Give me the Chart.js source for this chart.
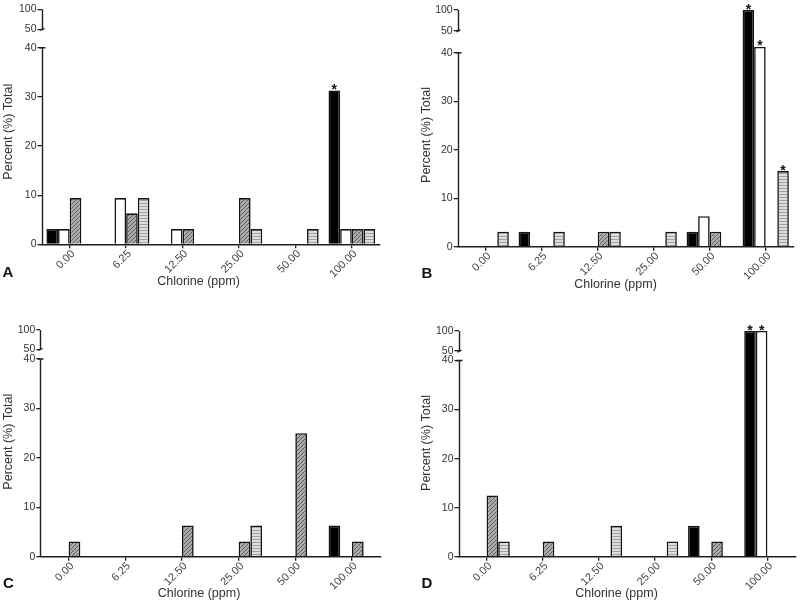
<!DOCTYPE html>
<html><head><meta charset="utf-8">
<script src="https://cdn.jsdelivr.net/npm/chart.js@4.4.0/dist/chart.umd.min.js"></script>
<style>
html,body{margin:0;padding:0;background:#fff;}
#wrap{position:relative;width:800px;height:602px;overflow:hidden;background:#fff;}
canvas{position:absolute;}
</style></head><body>
<div id="wrap">
<canvas id="cA" width="400" height="300" style="left:0px;top:0px"></canvas>
<canvas id="cB" width="400" height="300" style="left:400px;top:0px"></canvas>
<canvas id="cC" width="400" height="302" style="left:0px;top:300px"></canvas>
<canvas id="cD" width="400" height="302" style="left:400px;top:300px"></canvas>
</div>
<script>
// ---- data ----
const categories = ['0.00', '6.25', '12.50', '25.00', '50.00', '100.00'];
const yTickValues = [0, 10, 20, 30, 40, 50, 100];
const seriesNames = ['black', 'white', 'hatched', 'striped'];
const xTitle = 'Chlorine (ppm)';
const yTitle = 'Percent (%) Total';

const aBlack   = [3.1, 0,   0,   0,   0,   31.3];
const aWhite   = [3.1, 9.4, 3.1, 0,   0,   3.1];
const aHatched = [9.4, 6.3, 3.1, 9.4, 0,   3.1];
const aStriped = [0,   9.4, 0,   3.1, 3.1, 3.1];

const bBlack   = [0,   3.1, 0,   0,   3.1, 100];
const bWhite   = [0,   0,   0,   0,   6.3, 41.2];
const bHatched = [0,   0,   3.1, 0,   3.1, 0];
const bStriped = [3.1, 3.1, 3.1, 3.1, 0,   15.6];

const cBlack   = [0,   0,   0,   0,   0,   6.3];
const cWhite   = [0,   0,   0,   0,   0,   0];
const cHatched = [3.1, 0,   6.3, 3.1, 25,  3.1];
const cStriped = [0,   0,   0,   6.3, 0,   0];

const dBlack   = [0,    0,   0,   0,   6.3, 100];
const dWhite   = [0,    0,   0,   0,   0,   100];
const dHatched = [12.5, 3.1, 0,   0,   3.1, 0];
const dStriped = [3.1,  0,   6.3, 3.1, 0,   0];

// significance markers: [series index, category index]
const starsA = [[0, 5]];
const starsB = [[0, 5], [1, 5], [3, 5]];
const starsC = [];
const starsD = [[0, 5], [1, 5]];

// ---- broken (piecewise) linear scale ----
const LinearScale = Chart.registry.getScale('linear');
class BrokenScale extends LinearScale {
  determineDataLimits() { this.min = 0; this.max = 100; }
  buildTicks() { return yTickValues.map(v => ({ value: v })); }
  _frac(v) {
    const b = this.options.brk;
    const lowTop = 42;
    const fLow = lowTop / 40 * b.f40;
    if (v <= lowTop) return v / 40 * b.f40;
    if (v <= 50) return fLow + (v - lowTop) / (50 - lowTop) * (b.f50 - fLow);
    return b.f50 + (v - 50) / 50 * (1 - b.f50);
  }
  getPixelForValue(v) {
    return this.bottom - this._frac(v) * (this.bottom - this.top);
  }
  getValueForPixel(p) {
    const f = (this.bottom - p) / (this.bottom - this.top);
    let lo = 0, hi = 100;
    for (let i = 0; i < 40; i++) { const m = (lo + hi) / 2; if (this._frac(m) < f) lo = m; else hi = m; }
    return lo;
  }
}
BrokenScale.id = 'broken';
BrokenScale.defaults = LinearScale.defaults;
Chart.register(BrokenScale);

// ---- fills ----
function hatchPattern() {
  const c = document.createElement('canvas'); c.width = 4; c.height = 4;
  const g = c.getContext('2d');
  g.fillStyle = '#aaaaaa'; g.fillRect(0, 0, 4, 4);
  g.fillStyle = '#606060';
  for (let i = 0; i < 4; i++) g.fillRect(i, 3 - i, 1, 1);
  return g.createPattern(c, 'repeat');
}
function stripePattern() {
  const c = document.createElement('canvas'); c.width = 2; c.height = 3;
  const g = c.getContext('2d');
  g.fillStyle = '#dedede'; g.fillRect(0, 0, 2, 3);
  g.fillStyle = '#a0a0a0'; g.fillRect(0, 2, 2, 1);
  return g.createPattern(c, 'repeat');
}
const fills = ['#000000', '#ffffff', hatchPattern(), stripePattern()];

const FONT = "'Liberation Sans', Arial, Helvetica, sans-serif";

const decor = {
  id: 'decor',
  afterDraw(chart, args, opts) {
    const ctx = chart.ctx;
    const ys = chart.scales.y;
    const x = Math.round(chart.chartArea.left) + 0.5;
    ctx.save();
    ctx.strokeStyle = '#1e1e1e'; ctx.lineWidth = 1.4;
    const p100 = ys.getPixelForValue(100), p50 = ys.getPixelForValue(50);
    const p40 = ys.getPixelForValue(40), p0 = ys.getPixelForValue(0);
    ctx.beginPath();
    ctx.moveTo(x, p100); ctx.lineTo(x, p50);
    ctx.moveTo(x, p40); ctx.lineTo(x, p0);
    // small break caps
    ctx.moveTo(x - 2, p50 + 1); ctx.lineTo(x + 2, p50 - 1);
    ctx.moveTo(x - 3, p40); ctx.lineTo(x + 3, p40);
    ctx.stroke();
    // stars
    ctx.fillStyle = '#111';
    ctx.font = 'bold 14px ' + FONT;
    ctx.textAlign = 'center'; ctx.textBaseline = 'alphabetic';
    (opts.stars || []).forEach(([ds, i]) => {
      const el = chart.getDatasetMeta(ds).data[i];
      ctx.fillText('*', el.x, el.y + 3.5);
    });
    // axis titles
    ctx.fillStyle = '#333';
    ctx.font = '12.5px ' + FONT;
    ctx.textAlign = 'center'; ctx.textBaseline = 'middle';
    ctx.fillText(xTitle, opts.xtx, opts.xty);
    ctx.save();
    ctx.translate(opts.ytx, opts.yty);
    ctx.rotate(-Math.PI / 2);
    ctx.fillText(yTitle, 0, 0);
    ctx.restore();
    // panel letter
    ctx.fillStyle = '#111';
    ctx.font = 'bold 15px ' + FONT;
    ctx.textAlign = 'left'; ctx.textBaseline = 'alphabetic';
    ctx.fillText(opts.letter, opts.lx, opts.ly);
    ctx.restore();
  }
};

function buildChart(id, series, geo, stars, letter) {
  return new Chart(document.getElementById(id), {
    type: 'bar',
    data: {
      labels: categories,
      datasets: series.map((d, i) => ({
        label: seriesNames[i], data: d,
        backgroundColor: fills[i], borderColor: '#151515', borderWidth: 1.6,
        categoryPercentage: 0.826, barPercentage: 1.0
      }))
    },
    options: {
      responsive: false, animation: false, devicePixelRatio: 1,
      layout: { padding: { top: geo.top, right: geo.right, left: 0, bottom: 0 } },
      plugins: {
        legend: { display: false }, tooltip: { enabled: false },
        decor: { stars: stars, letter: letter, lx: geo.lx, ly: geo.ly,
                 xtx: geo.xtx, xty: geo.xty, ytx: geo.ytx, yty: geo.yty }
      },
      scales: {
        x: {
          type: 'category', offset: true,
          grid: { display: true, drawOnChartArea: false, offset: false, tickLength: 4, color: '#222', lineWidth: 1.3 },
          border: { display: true, color: '#1e1e1e', width: 1.4 },
          ticks: { minRotation: 45, maxRotation: 45, autoSkip: false, padding: -1, labelOffset: 3.5, color: '#444', font: { family: FONT, size: 11 } },
          title: { display: false },
          afterFit: s => { s.height = geo.xh; }
        },
        y: {
          type: 'broken', brk: { f40: geo.f40, f50: geo.f50 },
          grid: { display: true, drawOnChartArea: false, tickLength: 4, color: '#222', lineWidth: 1.3 },
          border: { display: false },
          ticks: { padding: 1, color: '#333', font: { family: FONT, size: 10.5 }, callback: v => String(v) },
          title: { display: false },
          afterFit: s => { s.width = geo.yw; }
        }
      }
    },
    plugins: [decor]
  });
}

buildChart('cA', [aBlack, aWhite, aHatched, aStriped],
  { top: 9.5, right: 20, yw: 41.5, xh: 55.7, f40: 0.8373, f50: 0.9157, lx: 2.5, ly: 277,
    xtx: 198.5, xty: 281.7, ytx: 8.3, yty: 131.7 }, starsA, 'A');
buildChart('cB', [bBlack, bWhite, bHatched, bStriped],
  { top: 10, right: 6.3, yw: 57.7, xh: 53.3, f40: 0.8196, f50: 0.9113, lx: 21.5, ly: 278,
    xtx: 215.5, xty: 285, ytx: 26.7, yty: 135 }, starsB, 'B');
buildChart('cC', [cBlack, cWhite, cHatched, cStriped],
  { top: 30, right: 19.7, yw: 40.3, xh: 45.3, f40: 0.872, f50: 0.915, lx: 3, ly: 288,
    xtx: 199, xty: 293.3, ytx: 8.3, yty: 141.7 }, starsC, 'C');
buildChart('cD', [dBlack, dWhite, dHatched, dStriped],
  { top: 31, right: 4.5, yw: 58.5, xh: 45.3, f40: 0.869, f50: 0.911, lx: 21.5, ly: 288,
    xtx: 216.5, xty: 293.3, ytx: 26.7, yty: 143 }, starsD, 'D');
</script>
</body></html>
